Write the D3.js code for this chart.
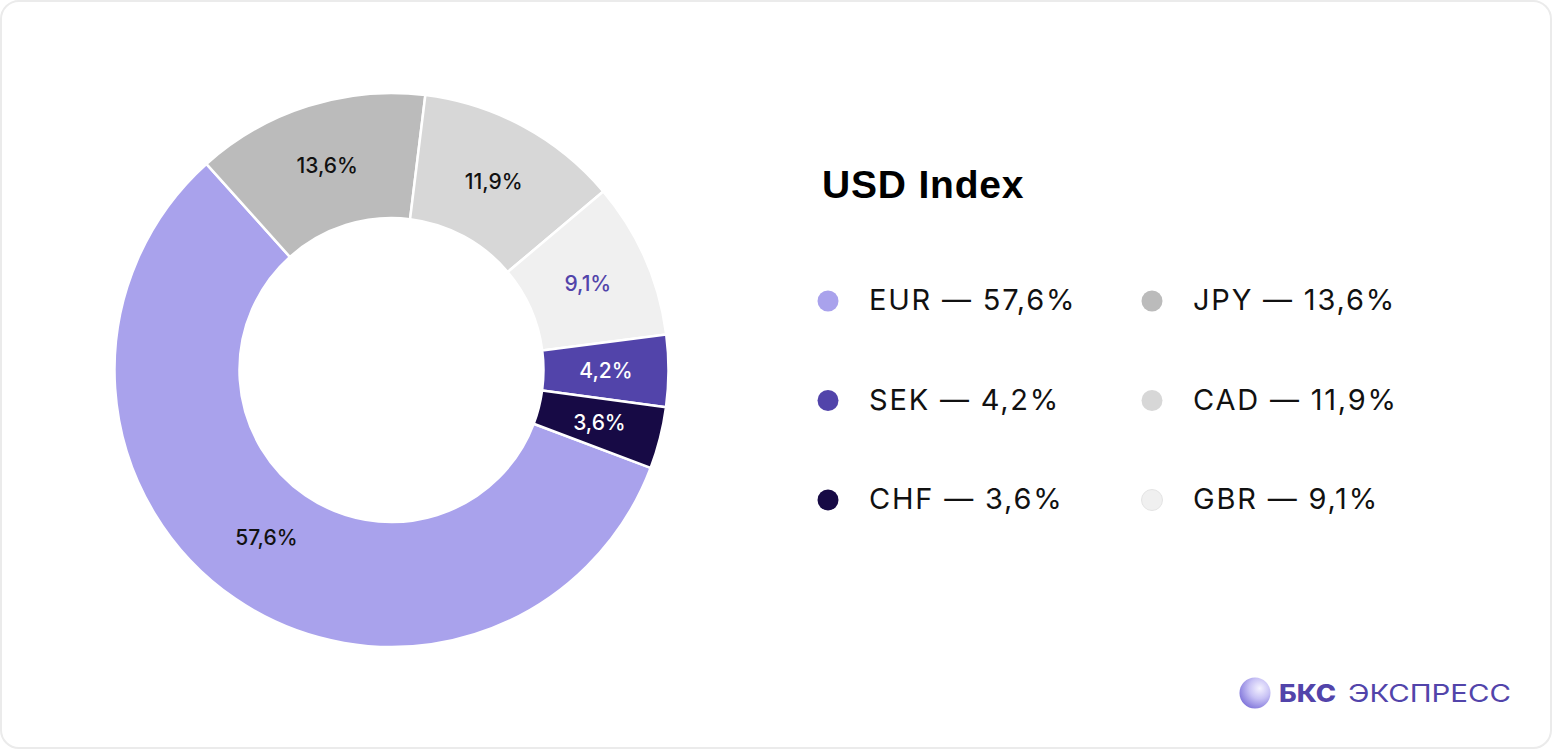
<!DOCTYPE html>
<html><head><meta charset="utf-8">
<script src="https://cdn.jsdelivr.net/npm/d3@7"></script>
<style>
html,body{margin:0;padding:0;background:#fff;}
svg{display:block;font-family:Inter, "Noto Sans", sans-serif;}
</style></head>
<body>
<svg id="c" width="1552" height="750"></svg>
<script>
const categories = ["EUR","JPY","CAD","GBR","SEK","CHF"];
const values = [57.6,13.6,11.9,9.1,4.2,3.6];
const labels = ["57,6%","13,6%","11,9%","9,1%","4,2%","3,6%"];
const colors = ["#a9a2ec","#bbbbbb","#d7d7d7","#f0f0f0","#5244aa","#170a45"];
const labelColors = ["#111","#111","#111","#5244aa","#fff","#fff"];
const legendOrder = ["EUR","JPY","SEK","CAD","CHF","GBR"];
const title = "USD Index";

const svg = d3.select("#c");
svg.append("rect").attr("x",1).attr("y",1).attr("width",1550).attr("height",747)
  .attr("rx",18).attr("fill","#fff").attr("stroke","#ebebeb").attr("stroke-width",2);

const cx=391.5, cy=370, R=277, r=152;
const data = categories.map((c,i)=>({c, v:values[i], l:labels[i], col:colors[i], lc:labelColors[i]}));
const startDeg = 110.7;
const pie = d3.pie().value(d=>d.v).sort(null)
  .startAngle(startDeg*Math.PI/180).endAngle((startDeg+360)*Math.PI/180);
const arc = d3.arc().innerRadius(r).outerRadius(R);
const g = svg.append("g").attr("transform",`translate(${cx},${cy})`);
const arcs = pie(data);
g.selectAll("path").data(arcs).join("path").attr("d",arc)
  .attr("fill",d=>d.data.col).attr("stroke","#fff").attr("stroke-width",2.5).attr("stroke-linejoin","round");
const labArc = d3.arc().innerRadius(r).outerRadius(R);
g.selectAll("text").data(arcs).join("text")
  .attr("transform",(d,i)=>{const [x,y]=labArc.centroid(d);return `translate(${i===0?x-4:x},${i===0?y-9:y})`;})
  .attr("text-anchor","middle").attr("dy","0.35em")
  .attr("font-size",21).attr("font-weight",500).attr("fill",d=>d.data.lc)
  .text(d=>d.data.l);

svg.append("text").attr("x",822).attr("y",198).attr("font-size",39).attr("font-weight",700)
  .attr("font-family","'Liberation Sans', Arial, sans-serif").attr("letter-spacing",0.8)
  .attr("fill","#000").text(title);

const lg = svg.append("g");
legendOrder.forEach((c,k)=>{
  const i = categories.indexOf(c);
  const col = k%2, row = Math.floor(k/2);
  const x = col===0 ? 828 : 1152, y = 300 + row*99.5;
  lg.append("circle").attr("cx",x).attr("cy",y+1).attr("r",10.5).attr("fill",colors[i])
    .attr("stroke", c==="GBR" ? "#e4e4e4" : "none").attr("stroke-width",1);
  lg.append("text").attr("x",x+41).attr("y",y).attr("dy","0.35em").attr("font-size",29)
    .attr("font-weight",400).attr("letter-spacing",1.8).attr("fill","#111").text(`${c} — ${labels[i]}`);
});

// logo
const defs = svg.append("defs");
const grad = defs.append("radialGradient").attr("id","sph").attr("cx","65%").attr("cy","35%").attr("r","75%");
grad.append("stop").attr("offset","0%").attr("stop-color","#f4f2ff");
grad.append("stop").attr("offset","45%").attr("stop-color","#c8c2f5");
grad.append("stop").attr("offset","100%").attr("stop-color","#7a6fd8");
svg.append("circle").attr("cx",1255).attr("cy",693).attr("r",15.5).attr("fill","url(#sph)");
svg.append("text").attr("x",1279).attr("y",702).attr("font-size",24).attr("fill","#5244aa")
  .attr("font-weight",800).attr("textLength",57).attr("lengthAdjust","spacingAndGlyphs").text("БКС");
svg.append("text").attr("x",1348).attr("y",702).attr("font-size",24).attr("fill","#5244aa")
  .attr("font-weight",400).attr("textLength",163).attr("lengthAdjust","spacingAndGlyphs").text("ЭКСПРЕСС");
</script>
</body></html>
